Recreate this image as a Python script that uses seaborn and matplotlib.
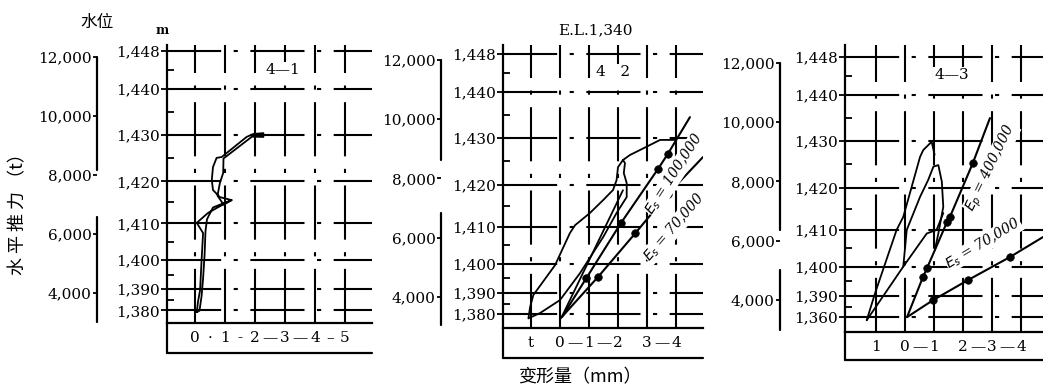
import numpy as np
import pandas as pd
import matplotlib.pyplot as plt
import seaborn as sns

# water level scale (m) and the thrust (t) each level lines up with
water_levels = [1380, 1390, 1400, 1410, 1420, 1430, 1440, 1448]
level_thrust = [3410, 4130, 5120, 6360, 7780, 9370, 10930, 12200]
level_labels = ['1,380', '1,390', '1,400', '1,410', '1,420', '1,430', '1,440', '1,448']
level_labels_43 = ['1,360', '1,390', '1,400', '1,410', '1,420', '1,430', '1,440', '1,448']
minor_levels = [1385, 1395, 1405, 1415, 1425, 1435, 1444]
thrust_ticks = [4000, 6000, 8000, 10000, 12000]
thrust_labels = ['4,000', '6,000', '8,000', '10,000', '12,000']

# gauge 4-1 : deformation (mm) / horizontal thrust (t)
p1_mm = [0.06, 0.1, 0.17, 0.22, 0.27, 0.06, 0.43, 0.72, 1.22, 0.83, 0.6, 0.56, 0.6, 0.72,
         0.89, 1.72, 1.94, 2.28, 2.28, 1.9, 0.95, 0.94, 0.83, 0.75, 0.95, 1.22, 0.6, 0.4,
         0.35, 0.32, 0.27, 0.22, 0.15, 0.06]
p1_t = [3350, 3700, 4100, 5120, 6030, 6380, 6710, 6880, 7150, 7250, 7490, 7830, 8270, 8580,
        8610, 9290, 9390, 9420, 9290, 9300, 8560, 8070, 7730, 7300, 7000, 7150, 6900, 6500,
        6100, 5300, 4500, 3900, 3400, 3350]

# gauge 4-2
p2_loop_mm = [3.97, 3.79, 3.45, 2.76, 2.41, 2.17, 2.0, 1.95, 1.83, 1.49, 1.03, 0.52, 0.34,
              -0.17, -0.92, -1.03, -1.09, -0.69, 0.0, 0.69, 1.49, 1.95, 2.3, 2.3, 2.2, 2.24, 2.17]
p2_loop_t = [9300, 9300, 9300, 8960, 8790, 8620, 8380, 7940, 7610, 7270, 6830, 6420, 6150,
             5070, 4060, 3660, 3270, 3450, 3890, 4800, 6020, 6830, 7370, 7840, 8180, 8520, 8620]
p2_inner_mm = [0.06, 2.17]
p2_inner_t = [3320, 7600]
p2_es100_mm = [0.07, 0.9, 2.1, 3.38, 3.72, 4.48]
p2_es100_t = [3320, 4620, 6490, 8320, 8830, 10070]
p2_es70_mm = [0.0, 1.31, 2.59, 3.72, 4.93]
p2_es70_t = [3250, 4670, 6140, 7470, 8720]

# gauge 4-3
p3_loop_a_mm = [-1.32, -1.03, -0.29, -0.06, 0.52, 0.63, 0.92, 1.02]
p3_loop_a_t = [3310, 4230, 6360, 6800, 8830, 9060, 9340, 8900]
p3_loop_b_mm = [-1.32, -0.06, 0.06, 0.52, 0.8, 0.98, 1.15, 1.27, 1.32, 1.15, 1.03]
p3_loop_b_t = [3310, 5120, 6360, 7480, 8050, 8500, 8550, 7990, 7140, 6240, 5680]
p3_loop_c_mm = [-0.06, 0.75, 1.09, 1.32]
p3_loop_c_t = [5120, 6240, 6360, 6930]
p3_ep400_mm = [0.07, 0.62, 0.76, 1.45, 1.55, 2.34, 2.93]
p3_ep400_t = [3415, 4770, 5070, 6630, 6800, 8620, 10140]
p3_es70_mm = [0.07, 0.97, 2.17, 3.62, 4.76]
p3_es70_t = [3415, 3990, 4665, 5445, 6120]

W, H = 1043, 387
sns.set_theme(style='white', rc={'axes.edgecolor': 'black', 'text.color': 'black',
                                 'xtick.color': 'black', 'ytick.color': 'black'})
plt.rcParams['font.family'] = ['DejaVu Serif', 'Noto Sans CJK SC']
CJK = ['Noto Sans CJK SC', 'DejaVu Sans']
GRID = (0, (26, 6, 2, 6))


def trace(ax, mm, t, lw=1.3, marks=False):
    df = pd.DataFrame({'mm': mm, 't': t})
    sns.lineplot(data=df, x='mm', y='t', sort=False, estimator=None, color='black',
                 lw=lw, ax=ax, zorder=3)
    if marks:
        sns.scatterplot(data=df.iloc[1:-1], x='mm', y='t', color='black', s=30,
                        edgecolor='black', ax=ax, zorder=4)


def panel(box, xlim, ylim, xt, xl, mxt, mxl, lv_labels, thrust_px, segs, box_y, title, title_xy):
    l, t, r, b = box
    ax = fig.add_axes([l / W, 1 - b / H, (r - l) / W, (b - t) / H])
    for y in level_thrust:
        ax.axhline(y, color='black', lw=1.5, ls=GRID, zorder=1)
    for x in xt:
        ax.axvline(x, color='black', lw=1.5, ls=GRID, zorder=1)
    ax.set_xlim(*xlim)
    ax.set_ylim(*ylim)
    sns.despine(ax=ax, top=True, right=True)
    ax.spines['left'].set_linewidth(1.6)
    ax.spines['bottom'].set_linewidth(1.6)
    # water level scale on the frame
    ax.set_yticks(level_thrust)
    ax.set_yticklabels(lv_labels, fontsize=11)
    ax.set_yticks(np.interp(minor_levels, water_levels, level_thrust), minor=True)
    ax.tick_params(axis='y', which='major', direction='out', length=4, width=1.3, pad=1, left=True)
    ax.tick_params(axis='y', which='minor', direction='in', length=5, width=1.3, left=True)
    # deformation labels
    ax.set_xticks(xt)
    ax.set_xticklabels(xl, fontsize=11)
    ax.set_xticks(mxt, minor=True)
    ax.set_xticklabels(mxl, minor=True, fontsize=11)
    ax.tick_params(axis='x', which='both', length=0, pad=6, bottom=True)
    # thrust scale further left
    loc = -thrust_px / (r - l)
    sec = ax.secondary_yaxis(loc, functions=(lambda v: v, lambda v: v))
    sec.spines[['left', 'right']].set_visible(False)
    sec.set_yticks(thrust_ticks)
    sec.set_yticklabels(thrust_labels, fontsize=11)
    sec.tick_params(axis='y', direction='out', length=3, width=1.3, pad=1)
    for y0, y1 in segs:
        ax.plot([loc, loc], [y0, y1], transform=ax.get_yaxis_transform(), color='black',
                lw=1.6, clip_on=False)
    ax.plot([0, 1], [box_y, box_y], transform=ax.transAxes, color='black', lw=1.6, clip_on=False)
    ax.plot([0, 0], [box_y, 0], transform=ax.transAxes, color='black', lw=1.6, clip_on=False)
    ax.text(*title_xy, title, transform=ax.transAxes, fontsize=11, ha='center', va='center',
            bbox=dict(facecolor='white', edgecolor='none', pad=1), zorder=5)
    return ax


def slope_label(ax, x, y, s, rot):
    ax.text(x, y, s, rotation=rot, fontsize=10, style='italic', ha='center', va='center',
            rotation_mode='anchor', zorder=5,
            bbox=dict(facecolor='white', edgecolor='none', pad=0.3))


fig = plt.figure(figsize=(W / 100, H / 100), dpi=100)

ax1 = panel((167, 45, 372, 323), (-0.933, 5.9), (2983, 12407),
            [0, 1, 2, 3, 4, 5], ['0', '1', '2', '3', '4', '5'],
            [0.5, 1.5, 2.5, 3.5, 4.5], ['·', '-', '—', '—', '–'],
            level_labels, 70, [(8170, 12000), (3016, 6576)], -0.108, '4—1', (0.566, 0.91))
trace(ax1, p1_mm, p1_t)

ax2 = panel((503, 45, 703, 328), (-1.966, 4.931), (2946, 12507),
            [-1, 0, 1, 2, 3, 4], ['t', '0', '1', '2', '3', '4'],
            [0.5, 1.5, 3.5], ['—', '—', '—'],
            level_labels, 62, [(8620, 12000), (3043, 6829)], -0.106, '4   2', (0.55, 0.905))
trace(ax2, p2_loop_mm, p2_loop_t)
trace(ax2, p2_inner_mm, p2_inner_t)
trace(ax2, p2_es100_mm, p2_es100_t, lw=1.5, marks=True)
trace(ax2, p2_es70_mm, p2_es70_t, lw=1.5, marks=True)
slope_label(ax2, 3.95, 8150, r'$E_s$ = 100,000', 57)
slope_label(ax2, 3.95, 6350, r'$E_s$ = 70,000', 49)

ax3 = panel((845, 45, 1043, 332), (-2.069, 4.759), (2912, 12608),
            [-1, 0, 1, 2, 3, 4], ['1', '0', '1', '2', '3', '4'],
            [0.5, 2.5, 3.5], ['—', '—', '—'],
            level_labels_43, 65, [(6350, 12000), (2970, 5000)], -0.098, '4—3', (0.54, 0.895))
trace(ax3, p3_loop_a_mm, p3_loop_a_t)
trace(ax3, p3_loop_b_mm, p3_loop_b_t)
trace(ax3, p3_loop_c_mm, p3_loop_c_t)
trace(ax3, p3_ep400_mm, p3_ep400_t, lw=1.5, marks=True)
trace(ax3, p3_es70_mm, p3_es70_t, lw=1.5, marks=True)
slope_label(ax3, 2.98, 8450, r'$E_p$ = 400,000', 64)
slope_label(ax3, 2.7, 5900, r'$E_s$ = 70,000', 31)

for ax in (ax1, ax2, ax3):
    ax.set_xlabel('')
    ax.set_ylabel('')

fig.text(97 / W, 1 - 22 / H, '水位', family=CJK, fontsize=12, ha='center', va='center')
fig.text(162 / W, 1 - 30 / H, 'm', fontsize=9, fontweight='bold', ha='center', va='center')
fig.text(595 / W, 1 - 30 / H, 'E.L.1,340', fontsize=11, ha='center', va='center')
fig.text(18 / W, 1 - 210 / H, '水 平 推 力 （t）', family=CJK, fontsize=13, rotation=90,
         ha='center', va='center')
fig.text(580 / W, 1 - 377 / H, '变形量（mm）', family=CJK, fontsize=13, ha='center', va='center')

fig.savefig('out.png', dpi=100)
